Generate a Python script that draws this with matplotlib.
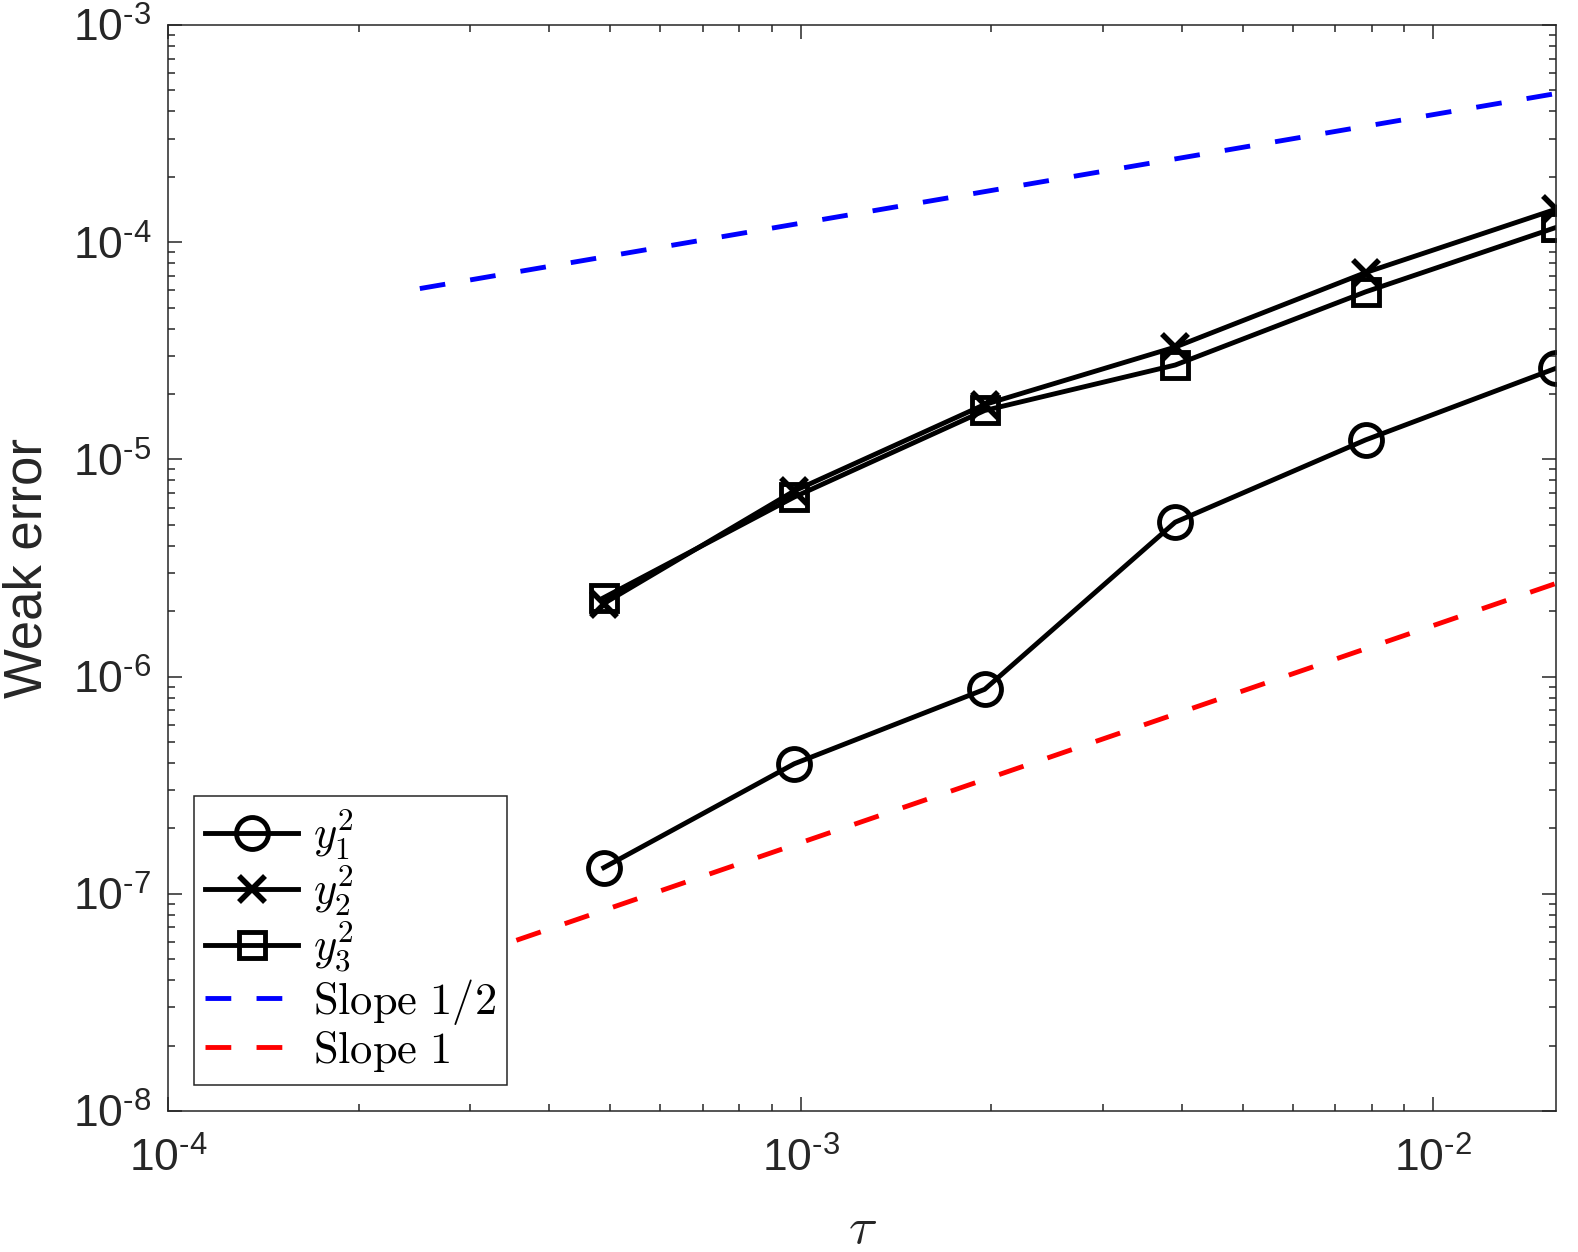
import numpy as np
import matplotlib
matplotlib.use("Agg")
import matplotlib.pyplot as plt
from matplotlib.font_manager import FontProperties
from matplotlib.ticker import FuncFormatter

# === Data ===
tau = [2**-11, 2**-10, 2**-9, 2**-8, 2**-7, 2**-6]
err_y1 = [1.32e-7, 3.97e-7, 8.74e-7, 5.14e-6, 1.23e-5, 2.63e-5]
err_y2 = [2.17e-6, 7.16e-6, 1.79e-5, 3.29e-5, 7.25e-5, 1.42e-4]
err_y3 = [2.31e-6, 6.71e-6, 1.68e-5, 2.72e-5, 5.91e-5, 1.17e-4]
labels = [r"$y_1^2$", r"$y_2^2$", r"$y_3^2$"]

ref_tau = [2.5e-4, 2**-6]
c_half = 3.87e-3
c_one = 1.72e-4
ref_half = [c_half * t**0.5 for t in ref_tau]
ref_one = [c_one * t for t in ref_tau]

plt.rcParams["font.family"] = ["Liberation Sans", "DejaVu Sans"]
plt.rcParams["mathtext.fontset"] = "custom"
plt.rcParams["mathtext.rm"] = "Liberation Sans"
plt.rcParams["mathtext.it"] = "Liberation Sans:italic"

AX_GREY = "#262626"


def matlab_pow10(v, pos):
    # MATLAB-style "10^{-3}" label, with a plain hyphen
    e = int(round(np.log10(v)))
    sign = r"\text{-}" if e < 0 else ""
    return r"$10^{%s%d}$" % (sign, abs(e))


fig = plt.figure(figsize=(15.78, 12.52), dpi=100)
ax = fig.add_axes([0.1065, 0.1126, 0.8796, 0.8674])

lw = 3.5
dash = (5.3, 5.2)
ax.loglog(tau, err_y1, "-o", color="k", lw=lw, ms=23, mew=3.5, mfc="none", label=labels[0])
ax.loglog(tau, err_y2, "-x", color="k", lw=lw, ms=19, mew=4.0, label=labels[1])
ax.loglog(tau, err_y3, "-s", color="k", lw=lw, ms=19, mew=3.5, mfc="none", label=labels[2])
ax.loglog(ref_tau, ref_half, "--", color="b", lw=lw, dashes=dash, label=r"$\mathrm{Slope\ 1/2}$")
ax.loglog(ref_tau, ref_one, "--", color="r", lw=lw, dashes=dash, label=r"$\mathrm{Slope\ 1}$")

ax.set_xlim(1e-4, 2**-6)
ax.set_ylim(1e-8, 1e-3)
ax.xaxis.set_major_formatter(FuncFormatter(matlab_pow10))
ax.yaxis.set_major_formatter(FuncFormatter(matlab_pow10))

for sp in ax.spines.values():
    sp.set_color(AX_GREY)
    sp.set_linewidth(1.1)
ax.tick_params(which="both", direction="in", top=True, right=True, colors=AX_GREY,
               labelcolor=AX_GREY, labelsize=32, width=1.1)
ax.tick_params(which="major", length=10)
ax.tick_params(which="minor", length=5)
ax.tick_params(axis="x", which="major", pad=19)
ax.tick_params(axis="y", which="major", pad=12)

ax.set_ylabel("Weak error", fontsize=38, color=AX_GREY)
ax.yaxis.set_label_coords(-0.083, 0.5)
ax.set_xlabel(r"$\tau$", fontsize=38, color=AX_GREY, math_fontfamily="cm")
ax.xaxis.set_label_coords(0.5, -0.086)

leg_font = FontProperties(size=32, math_fontfamily="cm")
leg = ax.legend(loc="lower left", bbox_to_anchor=(0.0187, 0.024), prop=leg_font,
                fancybox=False, framealpha=1, edgecolor=AX_GREY, handlelength=2.1,
                handletextpad=0.33, labelspacing=0.05, borderpad=0.25, borderaxespad=0)
leg.get_frame().set_linewidth(1.1)

fig.savefig("out.png", dpi=100)
